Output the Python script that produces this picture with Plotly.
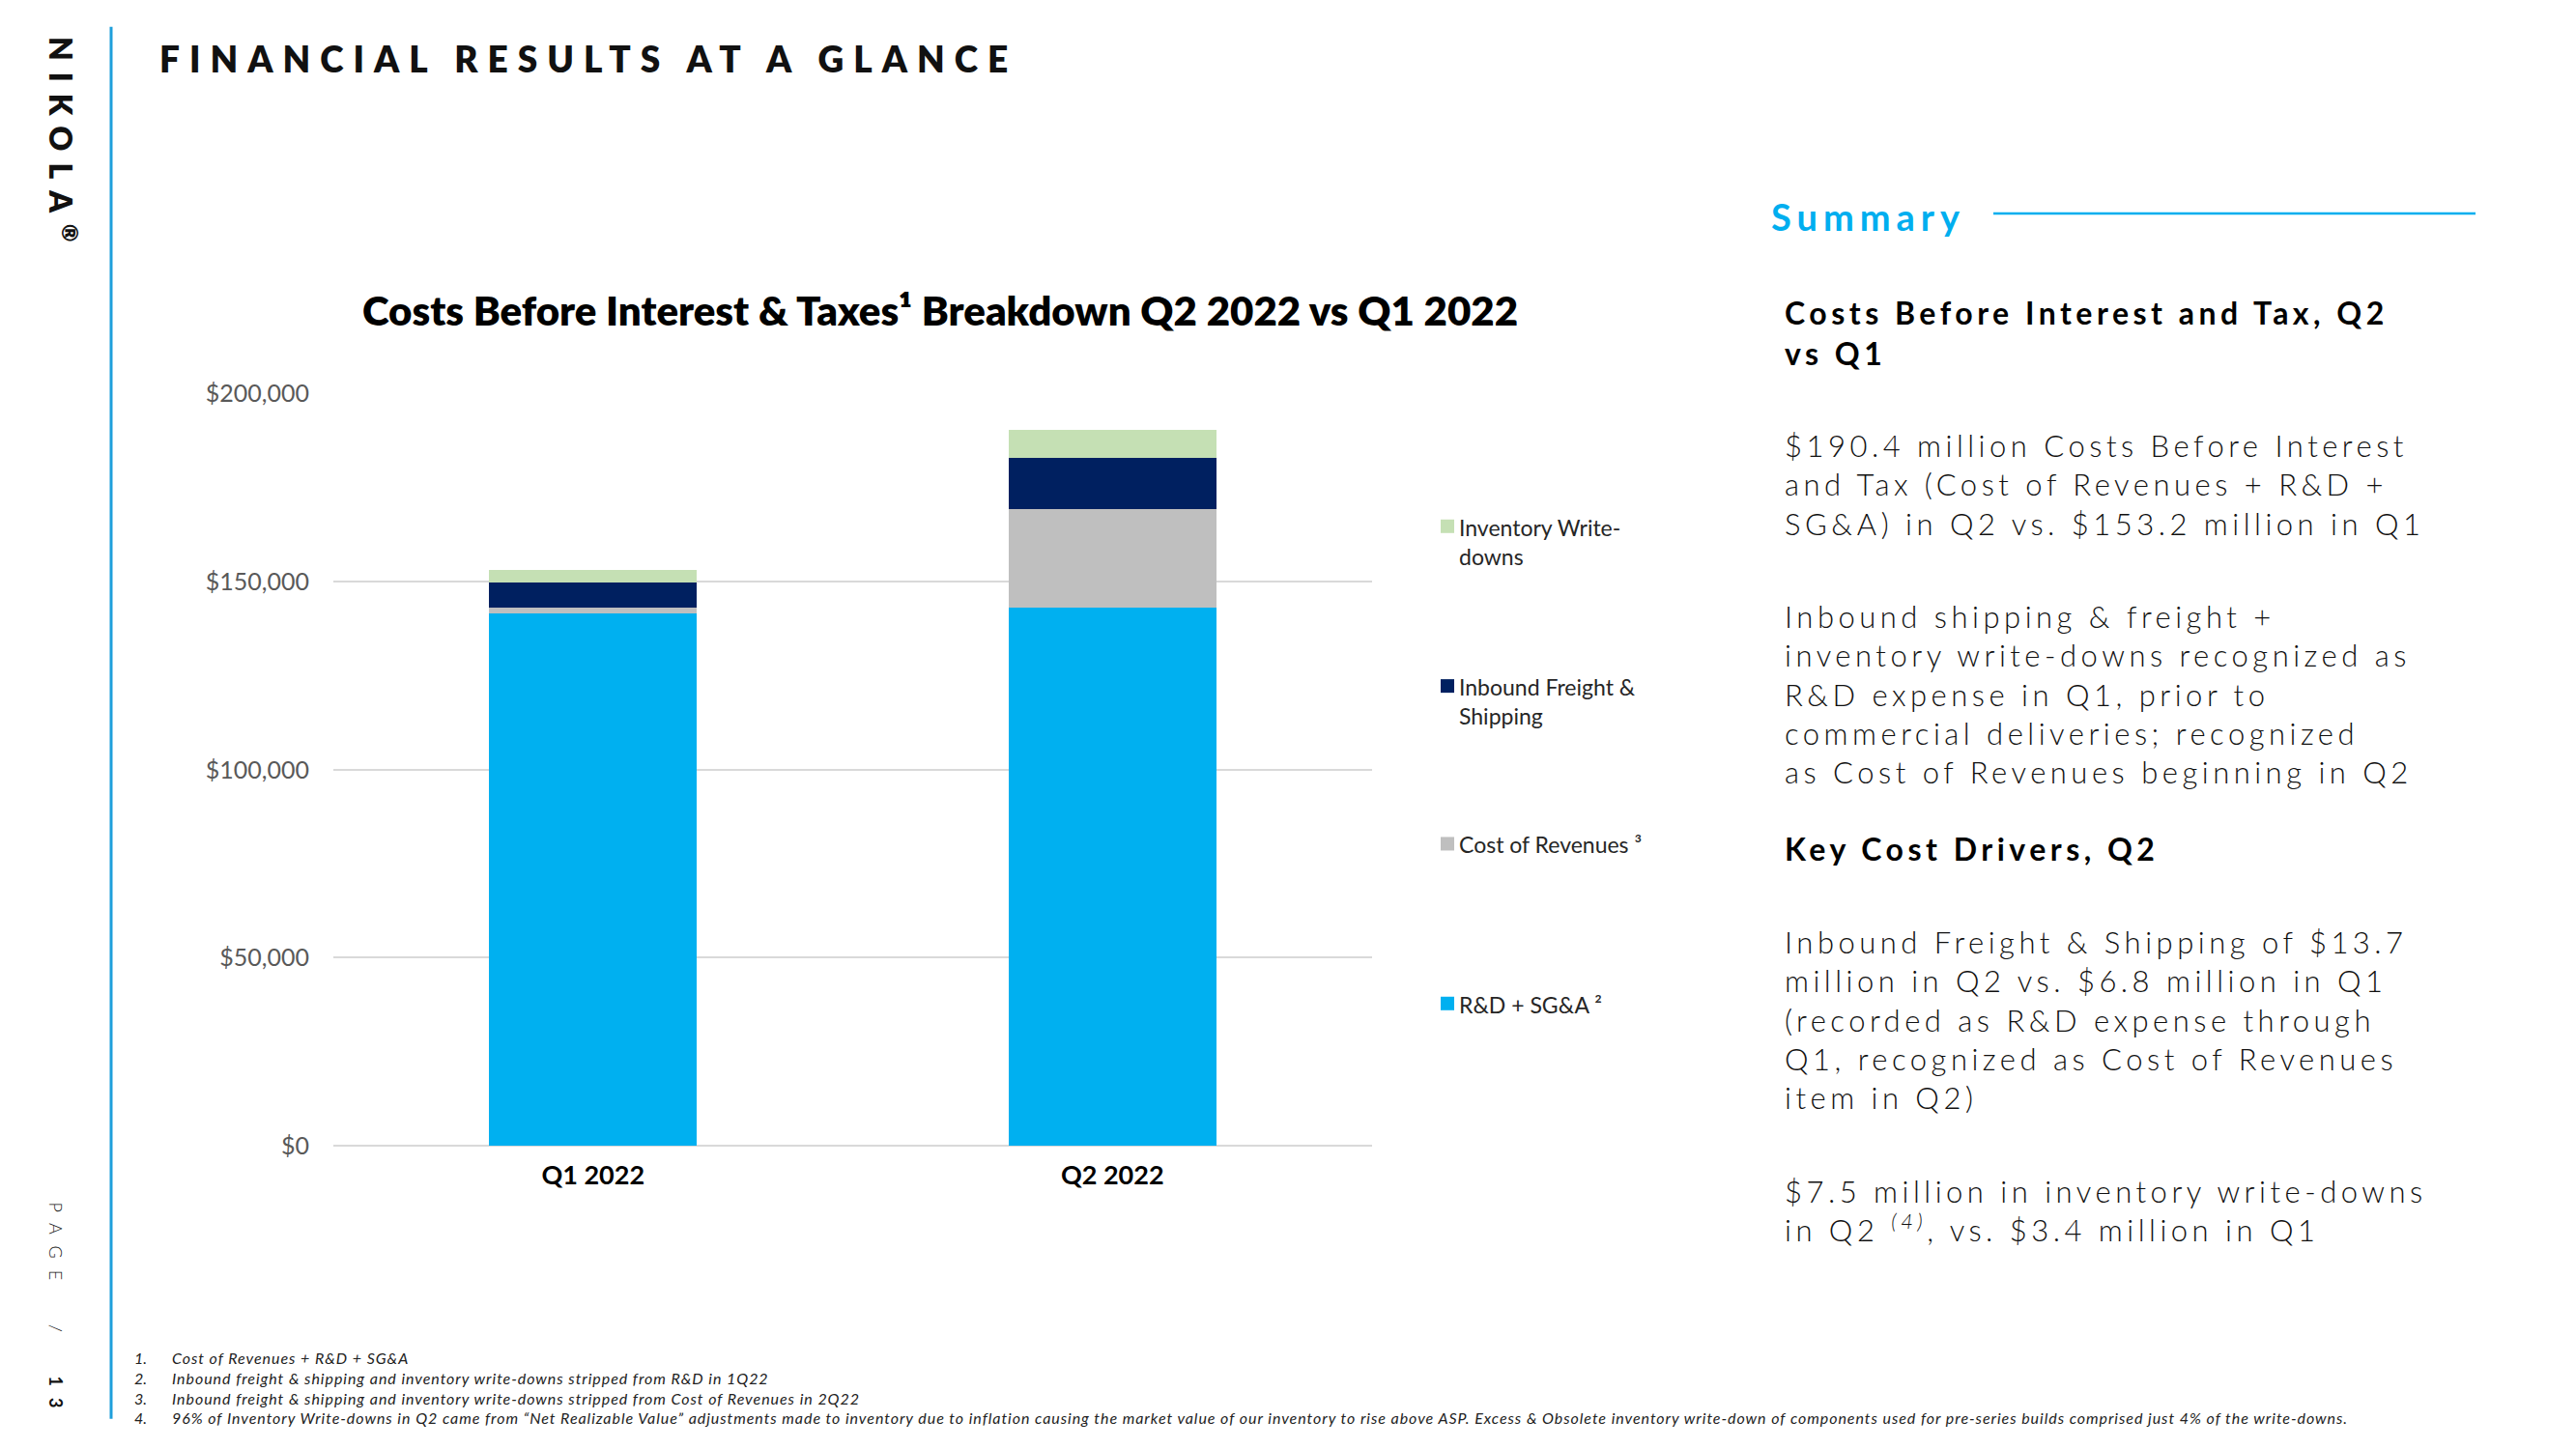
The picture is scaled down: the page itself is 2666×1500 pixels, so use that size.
import plotly.graph_objects as go

W, H = 2666, 1500

# ---------------- data ----------------
quarters = ["Q1 2022", "Q2 2022"]
rd_sga = [141600, 143100]
cost_of_revenues = [1400, 26100]
inbound_freight = [6800, 13700]
inventory_writedowns = [3400, 7500]

series_names = ["R&D + SG&A ²", "Cost of Revenues ³", "Inbound Freight & Shipping", "Inventory Write-downs"]
legend_labels = ["R&D + SG&A ²", "Cost of Revenues ³", "Inbound Freight &<br>Shipping", "Inventory Write-<br>downs"]
series_colors = ["#00B0F0", "#BFBFBF", "#002060", "#C5E0B4"]
series_values = [rd_sga, cost_of_revenues, inbound_freight, inventory_writedowns]

y_ticks = [0, 50000, 100000, 150000, 200000]
y_tick_labels = ["$0", "$50,000", "$100,000", "$150,000", "$200,000"]

FONT = "Lato, 'Open Sans', 'Liberation Sans', sans-serif"

# vertical calibration of the captured page (content appears slightly squeezed vertically)
V_SCALE, V_OFF = 0.978, 18.3


def px(x):
    return x / W


def py(y):
    yr = (y - V_OFF) / V_SCALE
    return 1 - yr / H


def ls(text, sp):
    return f'<span style="letter-spacing:{sp}px">{text}</span>'


def note(**kw):
    d = dict(xref="paper", yref="paper", showarrow=False)
    d.update(kw)
    return d


fig = go.Figure()
for name, vals, col in zip(series_names, series_values, series_colors):
    fig.add_trace(go.Bar(x=quarters, y=vals, name=name, marker=dict(color=col, line=dict(width=0)),
                         showlegend=False))

annotations = []
shapes = []

# Main title
annotations.append(note(text=ls("FINANCIAL RESULTS AT A GLANCE", 10), x=px(163), y=py(63), xanchor="left",
                        yanchor="middle",
                        font=dict(family=FONT, size=37, color="#111111", weight=800)))
# Chart title
annotations.append(note(text="Costs Before Interest & Taxes¹ Breakdown Q2 2022 vs Q1 2022", x=px(973), y=py(323),
                        xanchor="center", yanchor="middle",
                        font=dict(family=FONT, size=42, color="#000000", weight=800)))

# Manual legend (top-to-bottom order = stack order reversed)
legend_first_line_y = [1039, 874, 711, 546]
for lab, col, ly in zip(legend_labels, series_colors, legend_first_line_y):
    shapes.append(dict(type="rect", xref="paper", yref="paper", x0=px(1491), x1=px(1505), y0=py(ly + 7),
                       y1=py(ly - 7), fillcolor=col, line=dict(width=0)))
    annotations.append(note(text=lab, x=px(1508), y=py(ly - 15), xanchor="left", yanchor="top", align="left",
                            font=dict(family=FONT, size=23, color="#262626")))

# Summary panel
SUMMARY_BLUE = "#00AEEF"
annotations.append(note(text=ls("Summary", 6), x=px(1831), y=py(226), xanchor="left", yanchor="middle",
                        font=dict(family=FONT, size=38, color=SUMMARY_BLUE, weight=700)))
shapes.append(dict(type="line", xref="paper", yref="paper", x0=px(2063), x1=px(2562), y0=py(223), y1=py(223),
                   line=dict(color=SUMMARY_BLUE, width=2.5)))

headings = [
    ("Costs Before Interest and Tax, Q2<br>vs Q1", 346),
    ("Key Cost Drivers, Q2", 879),
]
for txt, cy in headings:
    annotations.append(note(text=ls(txt, 4.5), x=px(1845), y=py(cy), xanchor="left", yanchor="middle",
                            align="left",
                            font=dict(family=FONT, size=32, color="#000000", weight=700)))

paragraphs = [
    ("$190.4 million Costs Before Interest<br>and Tax (Cost of Revenues + R&D +<br>SG&A) in Q2 vs. $153.2 million in Q1", 503),
    ("Inbound shipping & freight +<br>inventory write-downs recognized as<br>R&D expense in Q1, prior to<br>"
     "commercial deliveries; recognized<br>as Cost of Revenues beginning in Q2", 719),
    ("Inbound Freight & Shipping of $13.7<br>million in Q2 vs. $6.8 million in Q1<br>(recorded as R&D expense through<br>"
     "Q1, recognized as Cost of Revenues<br>item in Q2)", 1056),
    ("$7.5 million in inventory write-downs<br>in Q2 <sup><i>(4)</i></sup>, vs. $3.4 million in Q1", 1253),
]
for txt, cy in paragraphs:
    annotations.append(note(text=ls(txt, 4.5), x=px(1845), y=py(cy), xanchor="left", yanchor="middle",
                            align="left",
                            font=dict(family=FONT, size=31, color="#111111", weight=300)))

# Left brand strip
shapes.append(dict(type="line", xref="paper", yref="paper", x0=px(115), x1=px(115), y0=py(30), y1=py(1468),
                   line=dict(color="#1E9FDB", width=3)))
annotations.append(note(text=ls("NIKOLA", 12) + "<sup>®</sup>", x=px(65), y=py(146), xanchor="center",
                        yanchor="middle", textangle=90,
                        font=dict(family=FONT, size=32, color="#111111", weight=800)))
annotations.append(note(text=ls("PAGE  /  <b>13</b>", 12), x=px(58), y=py(1356), xanchor="center",
                        yanchor="middle", textangle=90,
                        font=dict(family=FONT, size=18, color="#111111", weight=300)))

# Footnotes
foot_nums = "1.<br>2.<br>3.<br>4."
foot_text = ("Cost of Revenues + R&D + SG&A<br>"
             "Inbound freight & shipping and inventory write-downs stripped from R&D in 1Q22<br>"
             "Inbound freight & shipping and inventory write-downs stripped from Cost of Revenues in 2Q22<br>"
             "96% of Inventory Write-downs in Q2 came from “Net Realizable Value” adjustments made to inventory due to "
             "inflation causing the market value of our inventory to rise above ASP. Excess & Obsolete inventory "
             "write-down of components used for pre-series builds comprised just 4% of the write-downs.")
annotations.append(note(text=f"<i>{foot_nums}</i>", x=px(137), y=py(1436), xanchor="left", yanchor="middle",
                        align="left", font=dict(family=FONT, size=16, color="#222222")))
annotations.append(note(text=ls(f"<i>{foot_text}</i>", 0.95), x=px(176), y=py(1436), xanchor="left",
                        yanchor="middle", align="left", font=dict(family=FONT, size=16, color="#222222")))

fig.update_layout(
    width=W, height=H,
    margin=dict(l=0, r=0, t=0, b=0),
    paper_bgcolor="white", plot_bgcolor="white",
    barmode="stack", bargap=0.6,
    showlegend=False,
    font=dict(family=FONT),
    xaxis=dict(domain=[px(345), px(1420)], range=[-0.5, 1.5], showgrid=False, showline=False, zeroline=False,
               tickfont=dict(family=FONT, size=27, color="#000000", weight=700), ticklabelstandoff=12,
               ticks=""),
    yaxis=dict(domain=[py(1186), py(409)], range=[0, 200000], tickvals=y_ticks, ticktext=y_tick_labels,
               showgrid=True, gridcolor="#D9D9D9", gridwidth=2, zeroline=True, zerolinecolor="#D9D9D9",
               zerolinewidth=2, showline=False, ticks="", ticklabelstandoff=24,
               tickfont=dict(family=FONT, size=25, color="#595959")),
    annotations=annotations,
    shapes=shapes,
)

fig.write_html("out.html", config={"displayModeBar": False},
               post_script="document.body.style.margin='0';document.body.style.overflow='hidden';")
